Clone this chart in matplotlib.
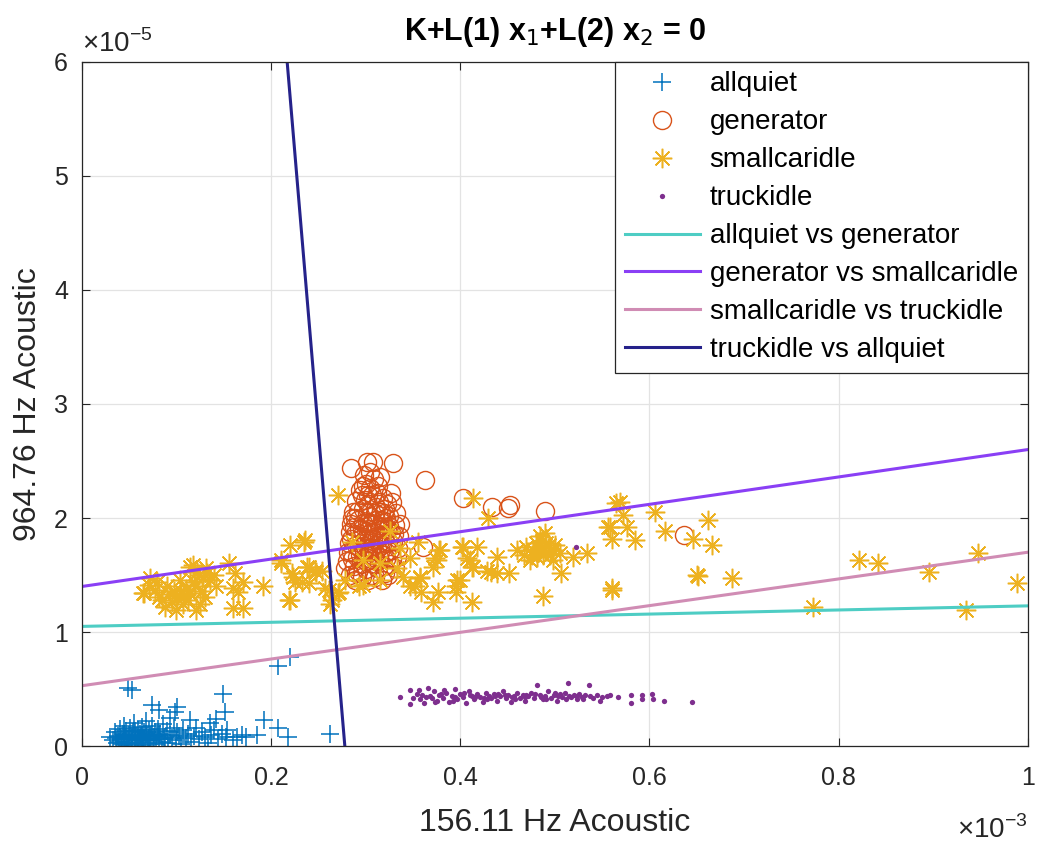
import numpy as np
import matplotlib
matplotlib.use("Agg")
import matplotlib.pyplot as plt

plt.rcParams["font.family"] = ["Liberation Sans", "DejaVu Sans"]

# ── Data (x in units of 1e-3, y in units of 1e-5) ────────────────────────────
allquiet_pts = [
    (0.030, 0.08), (0.033, 0.05), (0.035, 0.12), (0.037, 0.03), (0.038, 0.09),
    (0.040, 0.15), (0.041, 0.06), (0.042, 0.02), (0.043, 0.11), (0.044, 0.18),
    (0.045, 0.04), (0.046, 0.08), (0.047, 0.13), (0.048, 0.01), (0.049, 0.06),
    (0.050, 0.10), (0.051, 0.16), (0.052, 0.03), (0.053, 0.07), (0.054, 0.12),
    (0.055, 0.20), (0.056, 0.05), (0.057, 0.09), (0.058, 0.02), (0.059, 0.14),
    (0.060, 0.07), (0.061, 0.11), (0.062, 0.04), (0.063, 0.17), (0.064, 0.08),
    (0.065, 0.01), (0.066, 0.12), (0.067, 0.06), (0.068, 0.22), (0.069, 0.09),
    (0.070, 0.03), (0.071, 0.14), (0.072, 0.07), (0.073, 0.10), (0.074, 0.18),
    (0.075, 0.05), (0.077, 0.12), (0.078, 0.02), (0.079, 0.09), (0.080, 0.15),
    (0.082, 0.06), (0.083, 0.11), (0.085, 0.04), (0.086, 0.19), (0.088, 0.08),
    (0.090, 0.13), (0.091, 0.03), (0.093, 0.10), (0.095, 0.07), (0.097, 0.16),
    (0.099, 0.05), (0.101, 0.12), (0.103, 0.09), (0.105, 0.02), (0.107, 0.14),
    (0.110, 0.07), (0.112, 0.11), (0.115, 0.04), (0.118, 0.09), (0.121, 0.16),
    (0.124, 0.06), (0.127, 0.12), (0.130, 0.08), (0.133, 0.03), (0.137, 0.10),
    (0.140, 0.14), (0.144, 0.06), (0.148, 0.11), (0.152, 0.08),
    (0.036, 0.07), (0.039, 0.04), (0.044, 0.10), (0.047, 0.06), (0.050, 0.03),
    (0.053, 0.09), (0.056, 0.13), (0.059, 0.05), (0.062, 0.09), (0.065, 0.05),
    (0.068, 0.11), (0.071, 0.05), (0.076, 0.08), (0.081, 0.10), (0.087, 0.06),
    (0.049, 0.51), (0.053, 0.49), (0.074, 0.36), (0.081, 0.32), (0.101, 0.34),
    (0.098, 0.30), (0.149, 0.46), (0.151, 0.30), (0.142, 0.24), (0.135, 0.20),
    (0.114, 0.23), (0.093, 0.25), (0.164, 0.08), (0.174, 0.08), (0.185, 0.10),
    (0.169, 0.10), (0.153, 0.14), (0.160, 0.05), (0.193, 0.23), (0.207, 0.16),
    (0.218, 0.08), (0.262, 0.11), (0.207, 0.70), (0.220, 0.78),
]

generator_pts = [
    (0.285, 2.44), (0.301, 2.49), (0.308, 2.49), (0.329, 2.48), (0.363, 2.33),
    (0.403, 2.18), (0.434, 2.10), (0.450, 2.09), (0.453, 2.11), (0.490, 2.06),
    (0.361, 1.75), (0.637, 1.85),
    (0.280, 1.62), (0.282, 1.78), (0.284, 1.95), (0.285, 1.70), (0.287, 2.05),
    (0.288, 1.58), (0.289, 1.86), (0.290, 2.15), (0.291, 1.66), (0.292, 1.98),
    (0.293, 1.75), (0.294, 2.25), (0.295, 1.60), (0.296, 1.90), (0.297, 2.08),
    (0.298, 1.70), (0.299, 1.82), (0.300, 2.30), (0.300, 1.55), (0.301, 1.96),
    (0.302, 2.12), (0.303, 1.65), (0.304, 1.78), (0.305, 2.02), (0.306, 1.88),
    (0.307, 2.20), (0.308, 1.60), (0.309, 1.72), (0.310, 1.95), (0.311, 2.10),
    (0.312, 1.84), (0.313, 2.28), (0.314, 1.66), (0.315, 1.92), (0.316, 2.05),
    (0.317, 1.76), (0.318, 2.18), (0.319, 1.58), (0.320, 1.86), (0.321, 2.00),
    (0.322, 1.70), (0.323, 2.12), (0.324, 1.80), (0.325, 1.93), (0.327, 2.22),
    (0.328, 1.64), (0.330, 1.86), (0.332, 2.04), (0.334, 1.74), (0.336, 1.95),
    (0.283, 1.88), (0.286, 2.00), (0.292, 1.54), (0.296, 2.20), (0.303, 1.86),
    (0.309, 2.34), (0.313, 1.56), (0.318, 1.96), (0.326, 1.60), (0.298, 2.38),
    (0.306, 1.50), (0.315, 2.36), (0.290, 1.52), (0.320, 1.52),
    (0.281, 1.70), (0.284, 1.82), (0.286, 1.64), (0.288, 1.92), (0.290, 1.76),
    (0.292, 2.06), (0.294, 1.68), (0.295, 1.84), (0.297, 1.96), (0.299, 2.16),
    (0.300, 1.62), (0.302, 1.74), (0.304, 1.90), (0.305, 2.26), (0.307, 1.68),
    (0.308, 1.82), (0.310, 2.04), (0.311, 1.62), (0.312, 1.74), (0.314, 2.14),
    (0.316, 1.84), (0.317, 1.98), (0.319, 1.68), (0.320, 2.08), (0.322, 1.78),
    (0.323, 1.90), (0.325, 2.02), (0.326, 1.72), (0.328, 2.14), (0.329, 1.80),
    (0.331, 1.94), (0.333, 1.66), (0.335, 1.84), (0.278, 1.56), (0.283, 1.50),
    (0.289, 1.46), (0.296, 1.48), (0.303, 1.46), (0.310, 1.48), (0.317, 1.46),
    (0.324, 1.50), (0.331, 1.56), (0.297, 2.28), (0.305, 2.40), (0.312, 2.22),
    (0.301, 2.04), (0.306, 1.96), (0.309, 1.88), (0.299, 1.78), (0.318, 1.90),
    (0.293, 1.90), (0.297, 1.64), (0.302, 2.20), (0.306, 1.74), (0.311, 1.98),
    (0.314, 1.78), (0.319, 2.04), (0.322, 1.64), (0.327, 1.88), (0.289, 2.00),
]

smallcaridle_pts = [
    (0.066, 1.34), (0.071, 1.41), (0.072, 1.47), (0.065, 1.34), (0.077, 1.37),
    (0.082, 1.31), (0.090, 1.40), (0.088, 1.22), (0.095, 1.26), (0.101, 1.30),
    (0.104, 1.46), (0.100, 1.19), (0.107, 1.25), (0.114, 1.57), (0.117, 1.59),
    (0.114, 1.34), (0.121, 1.19), (0.125, 1.25), (0.128, 1.48), (0.132, 1.52),
    (0.130, 1.31), (0.142, 1.40), (0.155, 1.61), (0.162, 1.52), (0.160, 1.39),
    (0.170, 1.44), (0.165, 1.35), (0.160, 1.21), (0.170, 1.21), (0.191, 1.40),
    (0.211, 1.63), (0.220, 1.76), (0.220, 1.28), (0.223, 1.48), (0.110, 1.38),
    (0.118, 1.44), (0.124, 1.50), (0.108, 1.32), (0.097, 1.36), (0.135, 1.46),
    (0.085, 1.28), (0.093, 1.33), (0.105, 1.36), (0.112, 1.28), (0.120, 1.40),
    (0.127, 1.36), (0.122, 1.53), (0.131, 1.56), (0.140, 1.50), (0.079, 1.44),
    (0.235, 1.79), (0.211, 1.61), (0.222, 1.52), (0.240, 1.57), (0.246, 1.54),
    (0.254, 1.54), (0.225, 1.44), (0.240, 1.43), (0.219, 1.28), (0.261, 1.37),
    (0.272, 1.35), (0.278, 1.46), (0.264, 1.28), (0.293, 1.40),
    (0.271, 2.20), (0.236, 1.81), (0.286, 1.79), (0.326, 1.89), (0.336, 1.74),
    (0.355, 1.79), (0.347, 1.65), (0.378, 1.72), (0.375, 1.63), (0.371, 1.57),
    (0.403, 1.75), (0.418, 1.75), (0.413, 2.18), (0.429, 2.00), (0.439, 1.66),
    (0.410, 1.63), (0.412, 1.57), (0.400, 1.46), (0.396, 1.40), (0.412, 1.26),
    (0.371, 1.26), (0.357, 1.47), (0.352, 1.40), (0.339, 1.48), (0.333, 1.56),
    (0.315, 1.46), (0.297, 1.41), (0.271, 1.34), (0.262, 1.25), (0.257, 1.39),
    (0.248, 1.53), (0.238, 1.57), (0.233, 1.44), (0.297, 1.63), (0.315, 1.61),
    (0.452, 1.52), (0.439, 1.52), (0.428, 1.54), (0.460, 1.72), (0.470, 1.75),
    (0.477, 1.72), (0.484, 1.72), (0.490, 1.87), (0.491, 1.78), (0.498, 1.72),
    (0.481, 1.66), (0.474, 1.63), (0.498, 1.63), (0.505, 1.69), (0.519, 1.66),
    (0.534, 1.69), (0.507, 1.52), (0.487, 1.32), (0.560, 1.39), (0.556, 1.92),
    (0.560, 1.82), (0.565, 2.13), (0.569, 2.14), (0.572, 2.03), (0.558, 1.92),
    (0.576, 1.92), (0.585, 1.81), (0.606, 2.05), (0.616, 1.89), (0.646, 1.82),
    (0.650, 1.50), (0.560, 1.37), (0.357, 1.48), (0.373, 1.65), (0.379, 1.72),
    (0.347, 1.40), (0.359, 1.35), (0.376, 1.35), (0.397, 1.46), (0.396, 1.35),
    (0.402, 1.75), (0.407, 1.65), (0.413, 1.57), (0.433, 1.53), (0.486, 1.80),
    (0.494, 1.76), (0.488, 1.68), (0.480, 1.78), (0.495, 1.68), (0.484, 1.84),
    (0.500, 1.76), (0.476, 1.68), (0.489, 1.74), (0.467, 1.68),
    (0.662, 1.98), (0.666, 1.76), (0.651, 1.49), (0.687, 1.47), (0.773, 1.22),
    (0.822, 1.63), (0.842, 1.61), (0.896, 1.53), (0.948, 1.69), (0.935, 1.19),
    (0.989, 1.43),
]

truckidle_pts = [
    (0.336, 0.43), (0.347, 0.49), (0.347, 0.37), (0.354, 0.46), (0.366, 0.51),
    (0.358, 0.41), (0.362, 0.38), (0.368, 0.44), (0.372, 0.48), (0.375, 0.40),
    (0.378, 0.45), (0.382, 0.42), (0.385, 0.47), (0.388, 0.39), (0.391, 0.44),
    (0.394, 0.50), (0.397, 0.41), (0.400, 0.46), (0.403, 0.43), (0.406, 0.38),
    (0.409, 0.48), (0.412, 0.44), (0.415, 0.41), (0.418, 0.46), (0.421, 0.43),
    (0.424, 0.39), (0.427, 0.47), (0.430, 0.44), (0.433, 0.42), (0.436, 0.46),
    (0.439, 0.40), (0.442, 0.44), (0.445, 0.48), (0.448, 0.42), (0.451, 0.45),
    (0.454, 0.39), (0.457, 0.44), (0.460, 0.47), (0.463, 0.42), (0.466, 0.45),
    (0.469, 0.40), (0.472, 0.44), (0.475, 0.47), (0.478, 0.42), (0.481, 0.54),
    (0.484, 0.45), (0.487, 0.41), (0.490, 0.44), (0.493, 0.48), (0.496, 0.42),
    (0.499, 0.45), (0.502, 0.40), (0.505, 0.46), (0.508, 0.43), (0.511, 0.47),
    (0.514, 0.55), (0.517, 0.43), (0.520, 0.45), (0.523, 0.41), (0.526, 0.46),
    (0.529, 0.43), (0.532, 0.45), (0.536, 0.54), (0.540, 0.42), (0.545, 0.45),
    (0.550, 0.43), (0.558, 0.45), (0.567, 0.43), (0.581, 0.45), (0.581, 0.38),
    (0.592, 0.45), (0.592, 0.41), (0.603, 0.46), (0.604, 0.41), (0.615, 0.40),
    (0.645, 0.39), (0.370, 0.42), (0.380, 0.46), (0.395, 0.43), (0.410, 0.45),
    (0.425, 0.42), (0.440, 0.46), (0.455, 0.43), (0.470, 0.45), (0.485, 0.43),
    (0.500, 0.47), (0.515, 0.44), (0.530, 0.41), (0.360, 0.45), (0.350, 0.42),
    (0.356, 0.49), (0.364, 0.43), (0.373, 0.39), (0.383, 0.49), (0.392, 0.40),
    (0.404, 0.47), (0.416, 0.43), (0.428, 0.41), (0.437, 0.44), (0.447, 0.45),
    (0.458, 0.41), (0.468, 0.43), (0.479, 0.46), (0.491, 0.41), (0.503, 0.44),
    (0.512, 0.41), (0.524, 0.44), (0.537, 0.44), (0.548, 0.40), (0.555, 0.44),
    (0.522, 1.75),
]

# Decision boundaries: value of x2 at x1 = 0 and x1 = 1 (or x1 at x2 = 6 and 0)
boundary_names = ["allquiet vs generator", "generator vs smallcaridle",
                  "smallcaridle vs truckidle", "truckidle vs allquiet"]
boundary_x = [[0.0, 1.0], [0.0, 1.0], [0.0, 1.0], [0.217, 0.278]]
boundary_y = [[1.05, 1.23], [1.40, 2.60], [0.53, 1.70], [6.0, 0.0]]
boundary_colors = ["#4ECDC4", "#8A3FF5", "#D08CB4", "#25228A"]

# ── Plot ─────────────────────────────────────────────────────────────────────
fig = plt.figure(figsize=(10.37, 8.46), dpi=100)
ax = fig.add_axes([0.079, 0.118, 0.912, 0.809])

aq = np.array(allquiet_pts)
gen = np.array(generator_pts)
sc = np.array(smallcaridle_pts)
tr = np.array(truckidle_pts)

ax.plot(aq[:, 0], aq[:, 1], "+", color="#0072BD", markersize=13, mew=1.1,
        linestyle="none", label="allquiet")
ax.plot(gen[:, 0], gen[:, 1], "o", color="#D95319", markersize=13, mew=1.0,
        mfc="none", linestyle="none", label="generator")
ax.plot(sc[:, 0], sc[:, 1], marker=(8, 2, 0), color="#EDB120", markersize=14,
        mew=1.1, linestyle="none", label="smallcaridle")
ax.plot(tr[:, 0], tr[:, 1], "o", color="#7E2F8E", markersize=3.8, mew=0,
        linestyle="none", label="truckidle")

for name, bx, by, c in zip(boundary_names, boundary_x, boundary_y, boundary_colors):
    ax.plot(bx, by, color=c, linewidth=2.2, label=name)

ax.set_xlim(0, 1)
ax.set_ylim(0, 6)
ax.set_xticks([0, 0.2, 0.4, 0.6, 0.8, 1])
ax.set_xticklabels(["0", "0.2", "0.4", "0.6", "0.8", "1"])
ax.set_yticks(range(7))
ax.tick_params(direction="in", top=True, right=True, labelsize=18,
               colors="#262626", length=6)
ax.tick_params(axis="x", pad=14)
ax.tick_params(axis="y", pad=10)
ax.grid(True, color="#E3E3E3", linewidth=0.9)
ax.set_axisbelow(True)
for s in ax.spines.values():
    s.set_color("#262626")
    s.set_linewidth(0.9)

ax.set_xlabel("156.11 Hz Acoustic", fontsize=23, color="#262626", labelpad=13)
ax.set_ylabel("964.76 Hz Acoustic", fontsize=23, color="#262626", labelpad=8)
ax.set_title(r"K+L(1) x$_1$+L(2) x$_2$ = 0", fontsize=22, fontweight="bold",
             pad=16)

ax.text(0.0, 1.006, "\u00d710$^{\\mathregular{-5}}$", transform=ax.transAxes,
        fontsize=20, color="#262626", ha="left", va="bottom")
ax.text(1.0, -0.102, "\u00d710$^{\\mathregular{-3}}$", transform=ax.transAxes,
        fontsize=20, color="#262626", ha="right", va="top")

leg = ax.legend(loc="upper right", borderaxespad=0, fontsize=20,
                fancybox=False, framealpha=1, edgecolor="#262626",
                handlelength=2.7, handletextpad=0.35, labelspacing=0.43,
                borderpad=0.35)
leg.get_frame().set_linewidth(0.9)

fig.savefig("out.png", dpi=100)
